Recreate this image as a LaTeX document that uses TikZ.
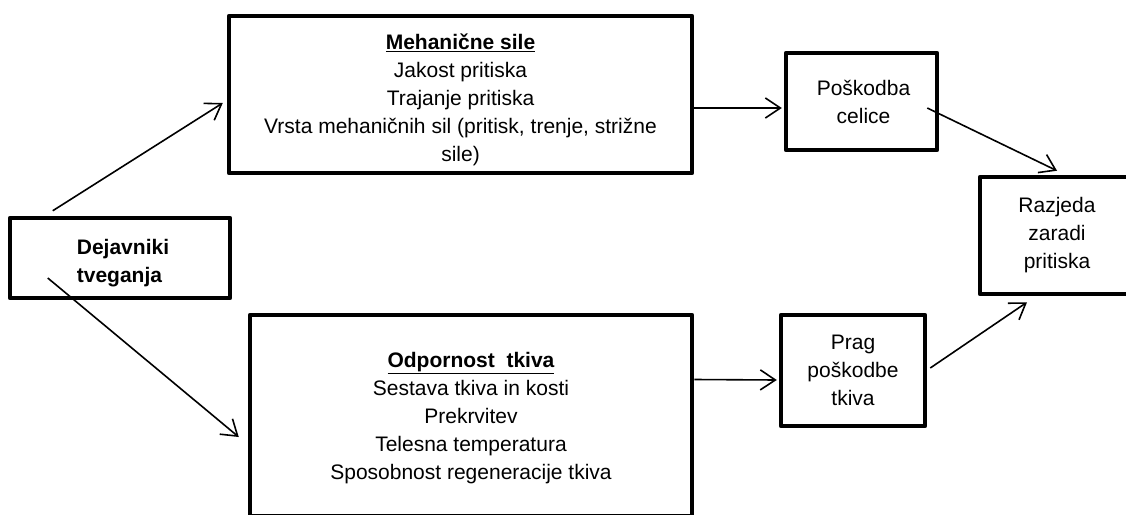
\documentclass[tikz,border=0pt]{standalone}
\usepackage{fontspec}
\setmainfont{Liberation Sans}
\usetikzlibrary{arrows.meta,calc}
\begin{document}
\begin{tikzpicture}[x=1pt,y=-1pt,
  box/.style={draw, line width=4.5pt, line join=round, inner sep=0pt},
  tx/.style={inner sep=0pt, align=center, font=\fontsize{21}{28}\selectfont},
  arr/.style={line width=1.6pt, -{Straight Barb[length=15pt,width=20pt,line width=1.6pt]}}]
\useasboundingbox (0,0) rectangle (1126,514);
\clip (0,0) rectangle (1126,514);
\fill[white] (0,0) rectangle (1126,514);
% boxes
\node[box, minimum width=463pt, minimum height=157pt] (mech) at (460.5,94.5) {};
\node[box, minimum width=220pt, minimum height=80pt] (dej) at (120,258) {};
\node[box, minimum width=442pt, minimum height=201pt] (odp) at (471,415.5) {};
\node[box, minimum width=151pt, minimum height=97pt] (pos) at (861.5,101.5) {};
\node[box, minimum width=154pt, minimum height=117pt] (raz) at (1057,235.5) {};
\node[box, minimum width=144pt, minimum height=111pt] (prag) at (853,370.5) {};
% texts
\node[tx] (mecht) at ($(mech.center)+(0,5)$)
  {\textbf{\underline{Mehanične sile}}\\Jakost pritiska\\Trajanje pritiska\\Vrsta mehaničnih sil (pritisk, trenje, strižne\\sile)};
\node[tx, align=left] (dejt) at ($(dej.center)+(3,5)$)
  {\textbf{Dejavniki}\\\textbf{tveganja}};
\node[tx] (odpt) at ($(odp.center)+(0,3)$)
  {\textbf{\underline{Odpornost\ \ tkiva}}\\Sestava tkiva in kosti\\Prekrvitev\\Telesna temperatura\\Sposobnost regeneracije tkiva};
\node[tx] (post) at ($(pos.center)+(2,0)$) {Poškodba\\celice};
\node[tx] (razt) at (raz.center) {Razjeda\\zaradi\\pritiska};
\node[tx] (pragt) at (prag.center) {Prag\\poškodbe\\tkiva};
% connectors
\draw[arr] ($(dej.north west)+(45,-5)$) -- ($(mech.west)+(-4,8.5)$);
\draw[arr] ($(dej.west)+(40,20)$) -- ($(odp.west)+(-9,21.5)$);
\draw[arr] ($(mech.east)+(0,13.5)$) -- ($(pos.west)+(-2,6.5)$);
\draw[arr] ($(pos.east)+(-12,6.5)$) -- ($(raz.north)+(0,-4)$);
\draw[arr] ($(odp.east)+(0,-36)$) -- ($(prag.west)+(-2,9.5)$);
\draw[arr] ($(prag.east)+(3,-2.5)$) -- ($(raz.south)+(-30,6)$);
\end{tikzpicture}
\end{document}
